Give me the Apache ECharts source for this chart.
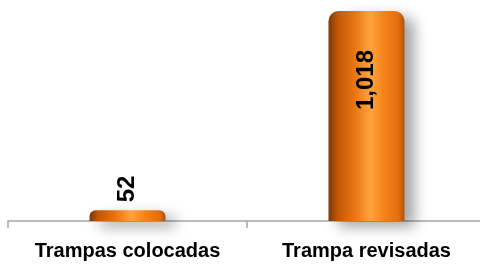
<!DOCTYPE html>
<html>
<head>
<meta charset="utf-8">
<script src="https://cdn.jsdelivr.net/npm/echarts@6/dist/echarts.min.js"></script>
<style>
  html, body { margin: 0; padding: 0; background: #fff; }
  #main { width: 480px; height: 264px; }
</style>
</head>
<body>
<div id="main"></div>
<script>
const categories = ['Trampas colocadas', 'Trampa revisadas'];
const values = [52, 1018];

const chart = echarts.init(document.getElementById('main'));

// cylinder look: horizontal gradient across each bar
const barColor = new echarts.graphic.LinearGradient(0, 0, 1, 0, [
  { offset: 0, color: '#7a3806' },
  { offset: 0.12, color: '#c05808' },
  { offset: 0.35, color: '#ea7612' },
  { offset: 0.55, color: '#ffa440' },
  { offset: 0.72, color: '#f5841a' },
  { offset: 0.92, color: '#e46e0e' },
  { offset: 1, color: '#b45208' }
]);

const option = {
  animation: false,
  grid: { left: 8, width: 478, top: 11, height: 210, outerBoundsMode: 'none' },
  xAxis: {
    type: 'category',
    data: categories,
    axisLine: { lineStyle: { color: '#a6a6a6', width: 1.5 } },
    axisTick: { show: true, length: 7, lineStyle: { color: '#a6a6a6', width: 1.5 } },
    axisLabel: {
      interval: 0,
      hideOverlap: false,
      color: '#000',
      fontFamily: 'Liberation Sans, Arial, sans-serif',
      fontWeight: 'bold',
      fontSize: 20,
      margin: 20
    }
  },
  yAxis: {
    type: 'value',
    min: 0,
    max: 1018,
    show: false
  },
  series: [{
    type: 'bar',
    barWidth: 76,
    data: [
      {
        value: values[0],
        itemStyle: { borderRadius: [6, 6, 0, 0] },
        label: { position: 'top', align: 'left', distance: 8 }
      },
      {
        value: values[1],
        label: { position: 'insideTop', align: 'right', distance: 39 }
      }
    ],
    itemStyle: {
      color: barColor,
      borderRadius: [10, 10, 0, 0],
      shadowColor: 'rgba(0,0,0,0.35)',
      shadowBlur: 14,
      shadowOffsetX: 10,
      shadowOffsetY: 6
    },
    label: {
      show: true,
      rotate: 90,
      verticalAlign: 'middle',
      color: '#000',
      fontFamily: 'Liberation Sans, Arial, sans-serif',
      fontWeight: 'bold',
      fontSize: 24,
      formatter: p => p.value.toLocaleString('en-US')
    }
  }]
};

chart.setOption(option);
</script>
</body>
</html>
